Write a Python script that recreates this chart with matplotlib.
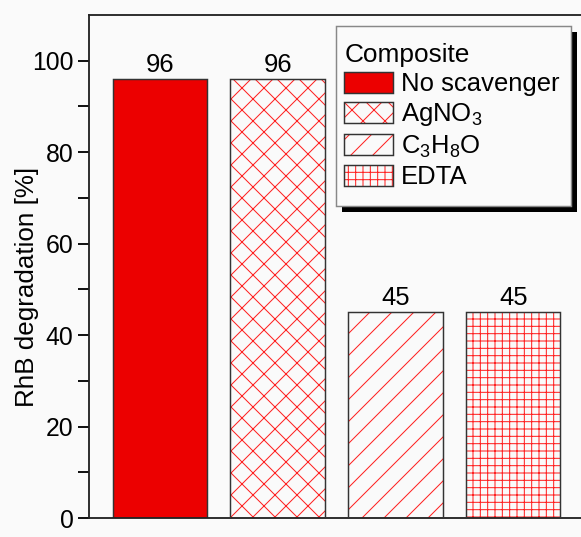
import numpy as np
import matplotlib
matplotlib.use("Agg")
import matplotlib.pyplot as plt
from matplotlib.patches import Rectangle, Patch

categories = ['No scavenger', 'AgNO$_3$', 'C$_3$H$_8$O', 'EDTA']
values = [96, 96, 45, 45]
hatches = [None, 'xx', '//', '+++']
yticks = [0, 20, 40, 60, 80, 100]

DPI = 132
plt.rcParams['font.family'] = ['Liberation Sans', 'DejaVu Sans']
plt.rcParams['mathtext.fontset'] = 'custom'
plt.rcParams['mathtext.rm'] = 'Liberation Sans'
plt.rcParams['mathtext.it'] = 'Liberation Sans'
plt.rcParams['hatch.linewidth'] = 0.55
plt.rcParams['hatch.color'] = '#ff2020'

bg = '#fafafa'
red = '#ec0000'
hcol = '#ff2020'
W, H = 581, 537
fig = plt.figure(figsize=(W / DPI, H / DPI), dpi=DPI, facecolor=bg)
ax = fig.add_axes([89 / W, 19 / H, 495 / W, 503 / H], facecolor=bg)

x = np.arange(1, len(values) + 1)
for xi, v, h in zip(x, values, hatches):
    if h is None:
        ax.bar(xi, v, width=0.8, color=red, edgecolor='#333333', linewidth=0.8, zorder=2)
    else:
        ax.bar(xi, v, width=0.8, color=bg, edgecolor=hcol, hatch=h, linewidth=0, zorder=2)
        ax.bar(xi, v, width=0.8, color='none', edgecolor='#333333', linewidth=0.8, zorder=3)
    ax.text(xi, v + 0.4, f'{v:g}', ha='center', va='bottom', fontsize=14)

ax.set_xlim(0.4, 4.6)
ax.set_ylim(0, 110)
ax.set_yticks(yticks)
ax.set_yticks(np.arange(10, 110, 20), minor=True)
ax.set_xticks([])
ax.tick_params(axis='y', which='major', length=6, width=1.0, pad=2.5, labelsize=13.5, direction='out')
ax.tick_params(axis='y', which='minor', length=6, width=1.0, direction='out')
ax.set_ylabel('RhB degradation [%]', fontsize=14.2)
ax.yaxis.set_label_coords(-0.101, 0.459)
for s in ax.spines.values():
    s.set_linewidth(1.0)
    s.set_color('#222222')

handles = []
for h in hatches:
    if h is None:
        handles.append(Patch(facecolor=red, edgecolor='#333333', linewidth=0.8))
    else:
        handles.append(Patch(facecolor=bg, edgecolor='#333333', hatch=h, linewidth=0.8))

extra_v = 5  # extra vertical padding of the frame, px
leg = ax.legend(handles, categories, title='Composite', loc='upper right',
                bbox_to_anchor=(571 / W, 1 - (26 + extra_v) / H), bbox_transform=fig.transFigure,
                borderaxespad=0, fontsize=14, title_fontsize=14.3, alignment='left',
                frameon=False, handlelength=1.9, handleheight=0.9, handletextpad=0.3,
                labelspacing=0.2, borderpad=0.45)
for p in leg.legend_handles:
    p._hatch_color = (1, 0.13, 0.13, 1)
leg.set_zorder(6)

fig.canvas.draw()
bb = leg.get_window_extent()
off = 6
fx0, fy0 = bb.x0 + 3, bb.y0 - extra_v
fw, fh = bb.width - 3, bb.height + 2 * extra_v
shadow = Rectangle((fx0 + off, fy0 - off), fw, fh, transform=None,
                   facecolor='black', edgecolor='none', zorder=5.4, clip_on=False)
frame = Rectangle((fx0, fy0), fw, fh, transform=None,
                  facecolor=bg, edgecolor='#888888', linewidth=0.8, zorder=5.5, clip_on=False)
ax.add_artist(shadow)
ax.add_artist(frame)

fig.savefig('out.png', dpi=DPI, facecolor=bg)
